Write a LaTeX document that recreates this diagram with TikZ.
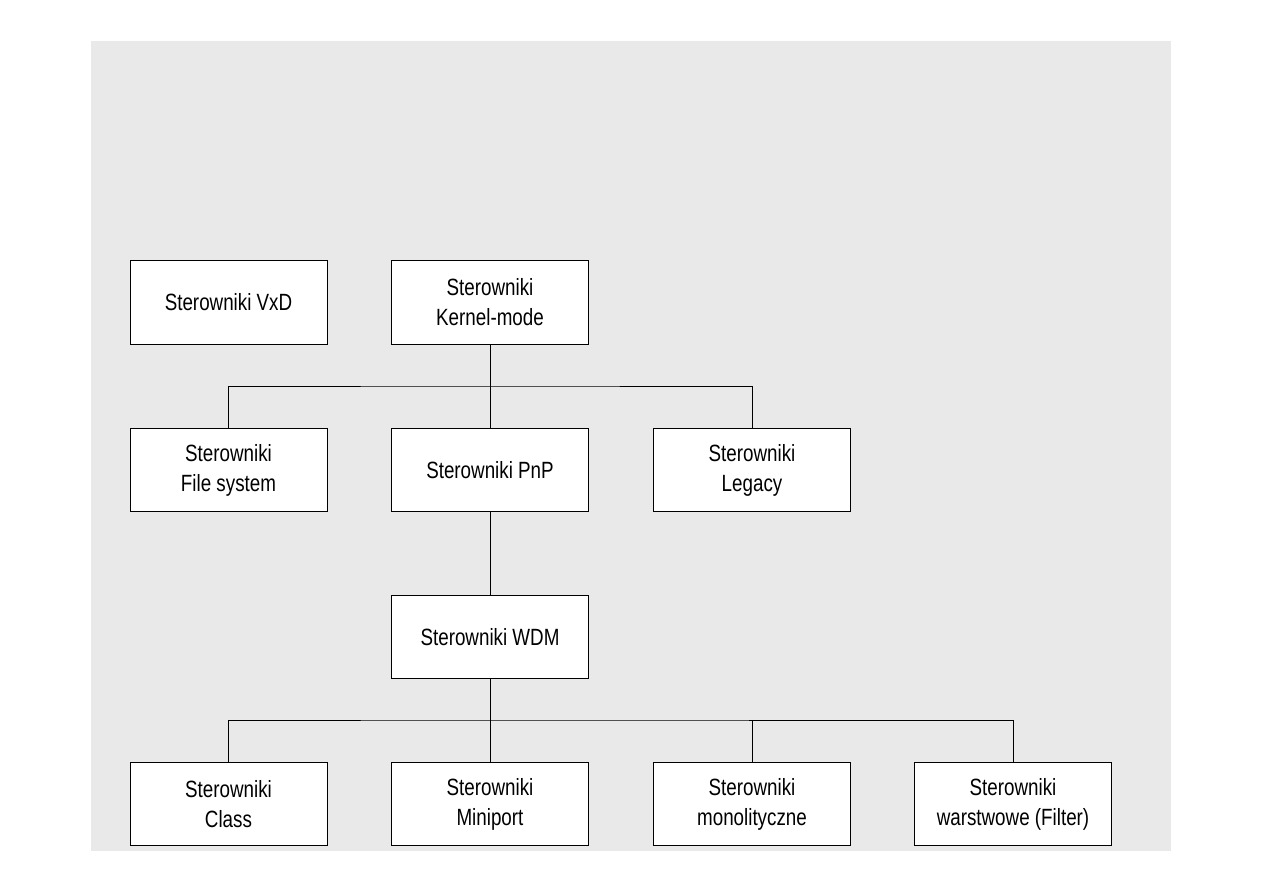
\documentclass[tikz,border=0pt]{standalone}
\usepackage{fontspec}
\setmainfont{Liberation Sans}[FakeStretch=0.8]
\definecolor{bggray}{HTML}{E9E9E9}
\begin{document}
\begin{tikzpicture}[x=1pt,y=-1pt,
  box/.style={draw=black, line width=1pt, fill=white, minimum width=197pt, minimum height=83.5pt,
    inner sep=0pt, align=center, font=\fontsize{23.5}{30}\selectfont},
  conn/.style={draw=black, line width=1pt}]
\useasboundingbox (0,0) rectangle (1263,893);
\fill[bggray] (91,41) rectangle (1171,851);
\node[box] (vxd) at (228.5,302.5) {Sterowniki VxD};
\node[box] (km) at (490,302.5) {Sterowniki\\Kernel-mode};
\node[box] (fs) at (228.5,470) {Sterowniki\\File system};
\node[box] (pnp) at (490,470) {Sterowniki PnP};
\node[box] (leg) at (752,470) {Sterowniki\\Legacy};
\node[box] (wdm) at (490,637) {Sterowniki WDM};
\node[box] (cls) at (228.5,804) {Sterowniki\\Class};
\node[box] (mini) at (490,804) {Sterowniki\\Miniport};
\node[box] (mono) at (752,804) {Sterowniki\\monolityczne};
\node[box] (filt) at (1013,804) {Sterowniki\\warstwowe (Filter)};
\coordinate (bus1) at (490,386);
\coordinate (bus2) at (490,720);
\draw[conn] (km.south) -- (pnp.north);
\draw[conn] (fs.north) |- (bus1) -| (leg.north);
\draw[conn] (pnp.south) -- (wdm.north);
\draw[conn] (wdm.south) -- (mini.north);
\draw[conn] (cls.north) |- (bus2) -| (filt.north);
\draw[conn] (mono.north) -- (mono.north |- bus2);
\end{tikzpicture}
\end{document}
